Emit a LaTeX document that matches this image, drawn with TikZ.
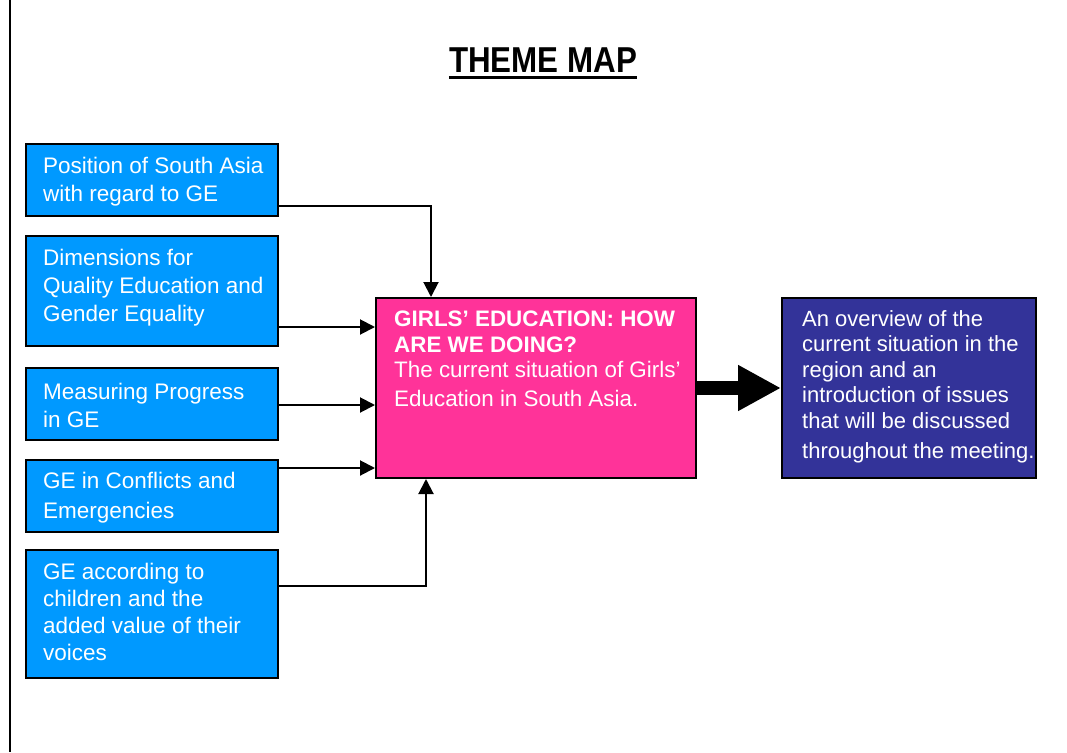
\documentclass[tikz,border=0pt]{standalone}
\usepackage{fontspec}
\setmainfont{Liberation Sans}
\newfontfamily\titlefont[FakeStretch=0.87]{Liberation Sans}
\usetikzlibrary{arrows.meta}
\definecolor{boxblue}{HTML}{0099FF}
\definecolor{boxpink}{HTML}{FF3399}
\definecolor{boxnavy}{HTML}{333399}
\begin{document}
\begin{tikzpicture}[x=1pt,y=-1pt,
  box/.style={draw=black,line width=2pt,anchor=north west,inner sep=0pt},
  bluebox/.style={box,fill=boxblue,minimum width=252pt},
  btext/.style={anchor=north west,inner sep=0pt,align=left,text=white,font=\fontsize{22.5}{28}\selectfont},
  conn/.style={line width=2pt,-{Triangle[length=15pt,width=15pt]}},
  bigarrow/.style={line width=14pt,-{Triangle[length=43pt,width=43pt]}}]
\useasboundingbox (0,0) rectangle (1067,752);
\draw[line width=2pt] (10,0) -- (10,752);
% title
\node[anchor=base,inner sep=0pt,font=\titlefont\bfseries\fontsize{36}{40}\selectfont] (title) at (543,72) {THEME MAP};
\draw[line width=3pt] ([yshift=-5.5pt]title.base west) -- ([yshift=-5.5pt]title.base east);
% left boxes
\node[bluebox,minimum height=72pt] (b1) at (25,143) {};
\node[btext] (t1) at (43,153.4) {\strut Position of South Asia\\with regard to GE};
\node[bluebox,minimum height=110pt] (b2) at (25,235) {};
\node[btext] (t2) at (43,245.4) {\strut Dimensions for\\Quality Education and\\Gender Equality};
\node[bluebox,minimum height=72pt] (b3) at (25,367) {};
\node[btext] (t3) at (43,379.4) {\strut Measuring Progress\\in GE};
\node[bluebox,minimum height=72pt] (b4) at (25,459) {};
\node[btext,font=\fontsize{22.5}{30}\selectfont] (t4) at (43,467) {\strut GE in Conflicts and\\Emergencies};
\node[bluebox,minimum height=128pt] (b5) at (25,549) {};
\node[btext,font=\fontsize{22.5}{27}\selectfont] (t5) at (43,560.1) {\strut GE according to\\children and the\\added value of their\\voices};
% centre box
\node[box,fill=boxpink,minimum width=320pt,minimum height=180pt] (pk) at (375,297) {};
\node[btext,font=\fontsize{22.4}{26}\selectfont] (pt) at (394,307.8) {\strut\textbf{GIRLS’ EDUCATION: HOW}\\\textbf{ARE WE DOING?}\\[-1pt]The current situation of Girls’\\[3pt]Education in South Asia.};
% right box
\node[box,fill=boxnavy,minimum width=254pt,minimum height=180pt] (ov) at (781,297) {};
\node[btext,font=\fontsize{22}{25.5}\selectfont] (ot) at (802,308.15) {\strut An overview of the\\current situation in the\\region and an\\introduction of issues\\that will be discussed\\[4.5pt]throughout the meeting.};
% connectors
\draw[conn] ([yshift=-26pt]b1.east) -| ([xshift=56pt]pk.north west);
\draw[conn] ([yshift=-36pt]b2.east) -- ([yshift=-36pt]b2.east -| pk.west);
\draw[conn] ([yshift=-1pt]b3.east) -- ([yshift=-1pt]b3.east -| pk.west);
\draw[conn] ([yshift=28pt]b4.east) -- ([yshift=28pt]b4.east -| pk.west);
\draw[conn] ([yshift=28pt]b5.east) -| ([xshift=51pt]pk.south west);
\draw[bigarrow] (pk.east) -- (ov.west);
\end{tikzpicture}
\end{document}
